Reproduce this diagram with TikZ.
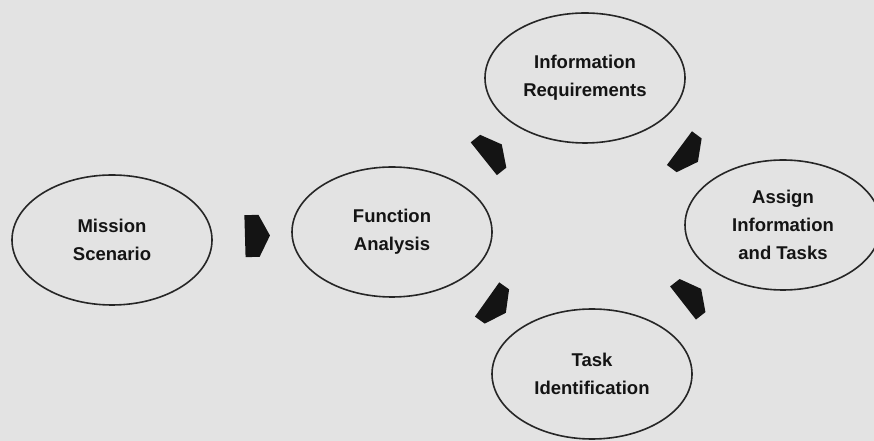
\documentclass[tikz,border=0pt]{standalone}
\usepackage{fontspec}
\setmainfont{Liberation Sans}
\usetikzlibrary{shapes.geometric, shapes.symbols}
\tikzset{
  ell/.style ={ellipse, draw=black!85, line width=1.6pt, align=center, inner sep=0pt,
               minimum width=200pt, minimum height=130pt, text=black!92,
               font=\bfseries\fontsize{18.5}{28}\selectfont},
  fat/.style ={signal, signal to=east, fill=black!92, inner sep=0pt,
               minimum width=25pt, minimum height=42pt, signal pointer angle=125},
  fatd/.style={fat, minimum width=23pt, minimum height=42pt},
}

\begin{document}
\begin{tikzpicture}[x=1pt, y=1pt]
  \clip (0,0) rectangle (874,441);
  \fill[black!11] (0,0) rectangle (874,441);
  % the five stages
  \node[ell] (ms) at (112,201) {Mission\\Scenario};
  \node[ell] (fa) at (392,209) {Function\\Analysis};
  \node[ell] (ir) at (585,363) {Information\\Requirements};
  \node[ell] (ts) at (592,67)  {Task\\Identification};
  \node[ell, minimum width=196pt] (as) at (783,216) {Assign\\Information\\and Tasks};
  % block arrows between them
  \path (ms) -- node[fat, sloped] {} (fa);
  \path (fa) -- node[fatd, sloped] {} (ir);
  \path (fa) -- node[fatd, sloped] {} (ts);
  \path (ir) -- node[fatd, sloped] {} (as);
  \path (ts) -- node[fatd, sloped] {} (as);
\end{tikzpicture}
\end{document}
